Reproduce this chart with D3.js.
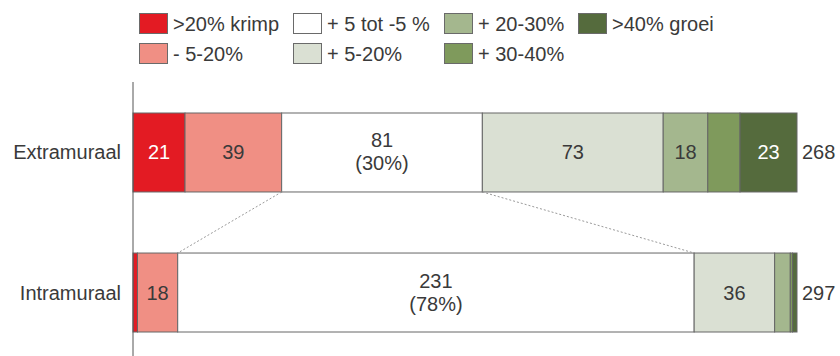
<!DOCTYPE html>
<html>
<head>
<meta charset="utf-8">
<script src="https://cdn.jsdelivr.net/npm/d3@7/dist/d3.min.js"></script>
<style>
  html, body { margin: 0; padding: 0; background: #fff; }
  svg { display: block; }
  text { font-family: "Liberation Sans", Arial, Helvetica, sans-serif; fill: #3a3a3a; }
</style>
</head>
<body>
<svg id="chart" width="840" height="356"></svg>
<script>
// Categories (bars) and growth classes (stacked segments)
const categories = ["Extramuraal", "Intramuraal"];
const classes = [">20% krimp", "- 5-20%", "+ 5 tot -5 %", "+ 5-20%", "+ 20-30%", "+ 30-40%", ">40% groei"];
const classColors = ["#e31b23", "#f08f84", "#ffffff", "#dae0d3", "#a4b78e", "#7f9a5c", "#556b3d"];
const labelColors = ["#ffffff", "#3a3a3a", "#3a3a3a", "#3a3a3a", "#3a3a3a", "#3a3a3a", "#ffffff"];

// Counts per class
const extramuraal = [21, 39, 81, 73, 18, 13, 23];
const intramuraal = [2, 18, 231, 36, 7, 1, 2];
const values = [extramuraal, intramuraal];

// Which segments carry a visible label
const extraShown = [true, true, true, true, true, false, true];
const intraShown = [false, true, true, true, false, false, false];
const shown = [extraShown, intraShown];
const pctClass = 2; // the stable class also shows its share

// Legend layout: two rows, filled column by column
const legendCols = [139, 293, 444, 578];
const legendRows = [13, 43];

const svg = d3.select("#chart");
const xLeft = 133, xRight = 797;
const fs = 20;

const y = d3.scaleBand()
  .domain(categories)
  .range([113, 332])
  .paddingInner(0.436)
  .paddingOuter(0);

// Legend
const legend = svg.append("g");
classes.forEach((c, i) => {
  const col = Math.floor(i / 2), row = i % 2;
  const g = legend.append("g")
    .attr("transform", `translate(${legendCols[col]},${legendRows[row]})`);
  g.append("rect")
    .attr("x", 0.5).attr("y", 0.5)
    .attr("width", 28).attr("height", 20)
    .attr("fill", classColors[i])
    .attr("stroke", "#6a6a6a").attr("stroke-width", 1);
  g.append("text")
    .attr("x", 34).attr("y", 11)
    .attr("dominant-baseline", "central")
    .attr("font-size", fs)
    .text(c);
});

// Stacked bars, each scaled to its own total
const segStarts = [];
categories.forEach((cat, ci) => {
  const vals = values[ci];
  const total = d3.sum(vals);
  const x = d3.scaleLinear().domain([0, total]).range([xLeft, xRight]);
  const cum = d3.cumsum(vals);
  const starts = vals.map((v, i) => cum[i] - v);
  segStarts.push({ x, starts, cum });
  const y0 = y(cat), h = y.bandwidth();
  const g = svg.append("g");

  vals.forEach((v, i) => {
    g.append("rect")
      .attr("x", x(starts[i]))
      .attr("y", y0)
      .attr("width", x(cum[i]) - x(starts[i]))
      .attr("height", h)
      .attr("fill", classColors[i])
      .attr("stroke", "#666")
      .attr("stroke-width", 1);
  });

  vals.forEach((v, i) => {
    if (!shown[ci][i]) return;
    const cx = (x(starts[i]) + x(cum[i])) / 2;
    const cy = y0 + h / 2;
    if (i === pctClass) {
      const t = g.append("text")
        .attr("text-anchor", "middle")
        .attr("font-size", fs)
        .style("fill", labelColors[i]);
      t.append("tspan").attr("x", cx).attr("y", cy - 5).text(v);
      t.append("tspan").attr("x", cx).attr("y", cy + 18)
        .text(`(${Math.round(v / total * 100)}%)`);
    } else {
      g.append("text")
        .attr("x", cx).attr("y", cy)
        .attr("text-anchor", "middle")
        .attr("dominant-baseline", "central")
        .attr("font-size", fs)
        .style("fill", labelColors[i])
        .text(v);
    }
  });

  // Total at the end of the bar
  svg.append("text")
    .attr("x", xRight + 5).attr("y", y0 + h / 2)
    .attr("dominant-baseline", "central")
    .attr("font-size", fs)
    .text(total);

  // Category label
  svg.append("text")
    .attr("x", 121).attr("y", y0 + h / 2)
    .attr("text-anchor", "end")
    .attr("dominant-baseline", "central")
    .attr("font-size", fs)
    .text(cat);
});

// Dotted connectors between the stable segments
const a = segStarts[0], b = segStarts[1];
const yTopBottom = y(categories[0]) + y.bandwidth();
const yLowTop = y(categories[1]);
[[a.x(a.starts[pctClass]), b.x(b.starts[pctClass])],
 [a.x(a.cum[pctClass]), b.x(b.cum[pctClass])]].forEach(([x1, x2]) => {
  svg.append("line")
    .attr("x1", x1).attr("y1", yTopBottom)
    .attr("x2", x2).attr("y2", yLowTop)
    .attr("stroke", "#9a9a9a")
    .attr("stroke-width", 1)
    .attr("stroke-dasharray", "2,2");
});

// Vertical axis line
svg.append("line")
  .attr("x1", xLeft).attr("x2", xLeft)
  .attr("y1", 82).attr("y2", 356)
  .attr("stroke", "#555").attr("stroke-width", 1);
</script>
</body>
</html>
